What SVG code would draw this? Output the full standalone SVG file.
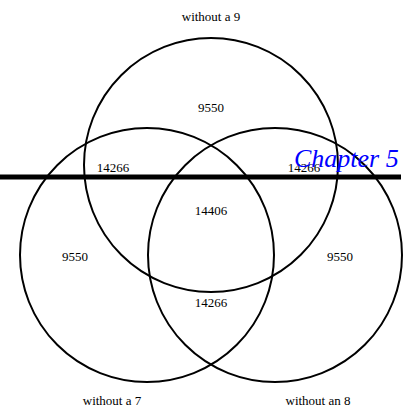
<svg xmlns="http://www.w3.org/2000/svg" width="407" height="408" viewBox="0 0 407 408">
<style>
.c{fill:none;stroke:#000;stroke-width:2}
.t{font-family:"Liberation Serif",serif;font-size:13px;text-anchor:middle;fill:#000}
.ch{font-family:"Liberation Serif",serif;font-size:26px;font-style:italic;fill:#0000ff}
</style>
<rect width="407" height="408" fill="#fff"/>
<g id="circle-9"><circle class="c" cx="211" cy="165" r="127"/></g>
<g id="circle-7"><circle class="c" cx="147" cy="255" r="127"/></g>
<g id="circle-8"><circle class="c" cx="275" cy="255" r="127"/></g>
<g id="connectors"><line x1="0" y1="177" x2="401" y2="177" stroke="#000" stroke-width="5"/></g>
<g id="labels">
<text class="t" x="211" y="112">9550</text>
<text class="t" x="113" y="172">14266</text>
<text class="t" x="304" y="172">14266</text>
<text class="t" x="211" y="215">14406</text>
<text class="t" x="75" y="261">9550</text>
<text class="t" x="340" y="261">9550</text>
<text class="t" x="211" y="307">14266</text>
<text class="t" x="211" y="21">without a 9</text>
<text class="t" x="112" y="405">without a 7</text>
<text class="t" x="318" y="405">without an 8</text>
</g>
<text class="ch" x="294" y="167">Chapter 5</text>
</svg>
